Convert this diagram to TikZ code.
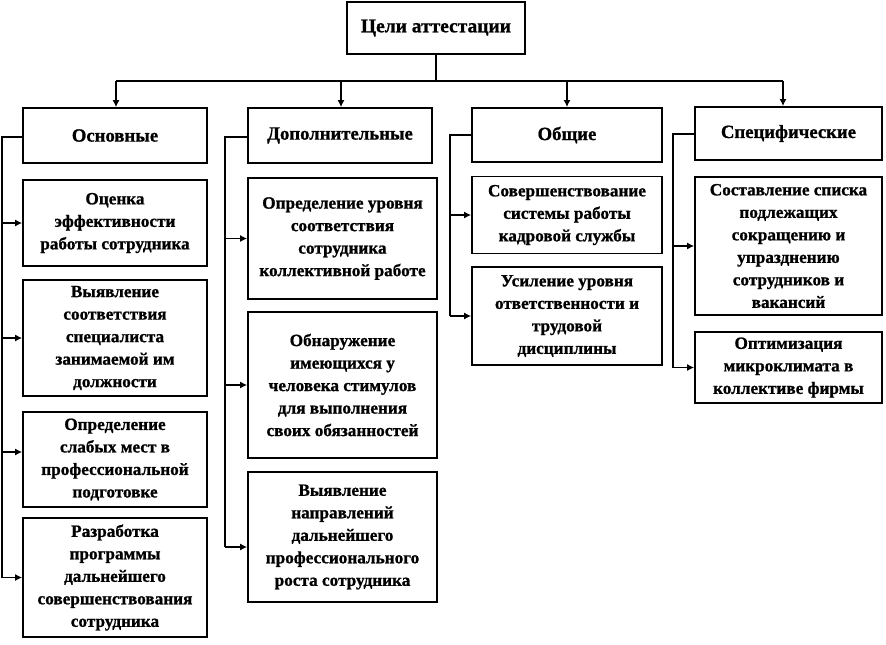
\documentclass[tikz,border=0pt]{standalone}
\usepackage{fontspec}
\setmainfont{Liberation Serif}[BoldFeatures={FakeBold=1}]
\usetikzlibrary{arrows.meta}
\begin{document}
\begin{tikzpicture}[x=1pt,y=-1pt,
  box/.style={draw, line width=1.8pt, align=center, inner sep=0pt,
    font=\bfseries\fontsize{17.2}{22.5}\selectfont},
  head/.style={box, font=\bfseries\fontsize{18.7}{22.5}\selectfont},
  arr/.style={-{Latex[length=7pt,width=7pt]}, line width=1.2pt},
  bus/.style={line width=1.3pt},
  thick bus/.style={line width=2.6pt}]
\useasboundingbox (0,0) rectangle (886,645);
% top
\node[head, font=\bfseries\fontsize{19.5}{22.5}\selectfont, minimum width=178, minimum height=52] (top) at (436,28) {Цели аттестации};
% headers
\node[head, minimum width=184, minimum height=55] (oh) at (115,135.5) {Основные};
\node[head, minimum width=184, minimum height=55] (dh) at (340,135.5) {Дополнительные};
\node[head, minimum width=190, minimum height=54] (ch) at (567,135) {Общие};
\node[head, minimum width=187, minimum height=53] (sh) at (788.5,133.5) {Специфические};
% column 1
\node[box, minimum width=184, minimum height=86] (o1) at (115,223) {Оценка\\эффективности\\работы сотрудника};
\node[box, minimum width=184, minimum height=116] (o2) at (115,338) {Выявление\\соответствия\\специалиста\\занимаемой им\\должности};
\node[box, minimum width=184, minimum height=95] (o3) at (115,459.5) {Определение\\слабых мест в\\профессиональной\\подготовке};
\node[box, minimum width=184, minimum height=119] (o4) at (115,577.5) {Разработка\\программы\\дальнейшего\\совершенствования\\сотрудника};
% column 2
\node[box, minimum width=189, minimum height=121] (d1) at (342.5,238.5) {Определение уровня\\соответствия\\сотрудника\\коллективной работе};
\node[box, minimum width=189, minimum height=146] (d2) at (342.5,385) {Обнаружение\\имеющихся у\\человека стимулов\\для выполнения\\своих обязанностей};
\node[box, minimum width=189, minimum height=130] (d3) at (342.5,537) {Выявление\\направлений\\дальнейшего\\профессионального\\роста сотрудника};
% column 3
\node[box, minimum width=190, minimum height=77] (c1) at (567,215) {Совершенствование\\системы работы\\кадровой службы};
\node[box, minimum width=190, minimum height=98] (c2) at (567,316) {Усиление уровня\\ответственности и\\трудовой\\дисциплины};
% column 4
\node[box, minimum width=187, minimum height=138] (s1) at (788.5,246) {Составление списка\\подлежащих\\сокращению и\\упразднению\\сотрудников и\\вакансий};
\node[box, minimum width=187, minimum height=71] (s2) at (788.5,367.5) {Оптимизация\\микроклимата в\\коллективе фирмы};
% top connectors
\coordinate (tj) at (436,81);
\coordinate (jo) at (116,81);
\coordinate (jd) at (341,81);
\coordinate (jc) at (567,81);
\coordinate (js) at (783,81);
\draw[thick bus] (top.south) -- (tj);
\draw[bus] (jo) -- (tj);
\draw[thick bus] (tj) -- (js);
\draw[arr] (jo) -- (jo |- oh.north);
\draw[arr] (jd) -- (jd |- dh.north);
\draw[arr, line width=1.8pt] (jc) -- (jc |- ch.north);
\draw[arr, line width=1.8pt] (js) -- (js |- sh.north);
% column 1 bus
\coordinate (ob) at (2,137);
\coordinate (o3a) at (2,452);
\draw[bus] (oh.west |- ob) -- (ob) -- (ob |- o4.west);
\draw[arr] (ob |- o1.west) -- (o1.west);
\draw[arr] (ob |- o2.west) -- (o2.west);
\draw[arr] (o3a) -- (o3a -| o3.west);
\draw[arr] (ob |- o4.west) -- (o4.west);
% column 2 bus
\coordinate (db) at (225,137);
\coordinate (d3a) at (225,547);
\draw[bus, line width=1.8pt] (dh.west |- db) -- (db) -- (d3a);
\draw[arr] (db |- d1.west) -- (d1.west);
\draw[arr] (db |- d2.west) -- (d2.west);
\draw[arr] (d3a) -- (d3a -| d3.west);
% column 3 bus
\coordinate (cb) at (450,135);
\draw[bus, line width=1.8pt] (ch.west |- cb) -- (cb) -- (cb |- c2.west);
\draw[arr] (cb |- c1.west) -- (c1.west);
\draw[arr] (cb |- c2.west) -- (c2.west);
% column 4 bus
\coordinate (sb) at (673,134);
\draw[bus] (sh.west |- sb) -- (sb) -- (sb |- s2.west);
\draw[arr] (sb |- s1.west) -- (s1.west);
\draw[arr] (sb |- s2.west) -- (s2.west);
\end{tikzpicture}
\end{document}
